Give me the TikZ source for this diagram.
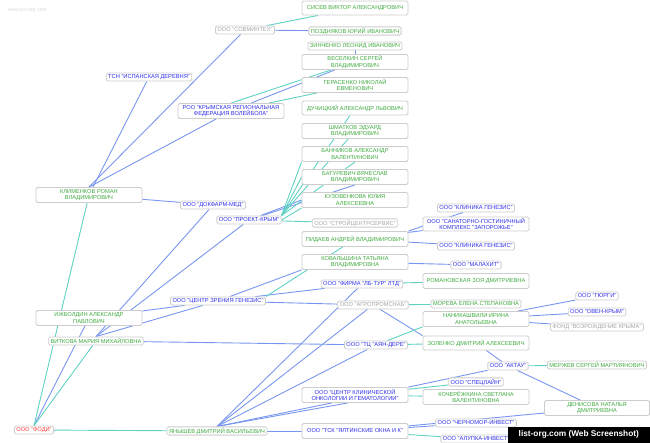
\documentclass[tikz,border=0pt]{standalone}
\usepackage{fontspec}
\setmainfont{Liberation Sans}
\usetikzlibrary{backgrounds}

\definecolor{pergreen}{RGB}{64,170,64}
\definecolor{orgblue}{RGB}{45,45,235}
\definecolor{offgray}{RGB}{165,165,165}
\definecolor{rootred}{RGB}{255,60,60}
\definecolor{linkblue}{RGB}{120,150,240}
\definecolor{linkteal}{RGB}{95,210,195}
\definecolor{boxgray}{RGB}{205,205,205}
\newcommand\nodefont{\fontsize{5.7}{6.6}\selectfont}

\begin{document}
\begin{tikzpicture}[x=1pt, y=-1pt,
				base/.style={draw=boxgray, line width=0.8pt, fill=white, rounded corners=1.5pt, font=\nodefont, align=center, inner xsep=2pt, inner ysep=1pt},
				wide/.style={base, minimum width=106pt, minimum height=15pt},
				tag/.style={base, minimum height=8pt},
				per/.style={text=pergreen},
				org/.style={text=orgblue},
				off/.style={text=offgray},
				root/.style={text=rootred},
				bl/.style={draw=linkblue, line width=0.9pt},
				tl/.style={draw=linkteal, line width=0.9pt}
			]
			\useasboundingbox (0,0) rectangle (650,443);
			\node[anchor=west, text=black!15, font=\fontsize{5.2}{6}\selectfont] (wm) at (4,10) {www.list-org.com};
			% middle column
			\node[wide, per, minimum height=14pt] (sisev) at (355,8) {СИСЕВ ВИКТОР АЛЕКСАНДРОВИЧ};
			\node[tag, off] (sovmin) at (245,30) {ООО "СОВМИНТЕХ"};
			\node[tag, per] (pozdn) at (355,31) {ПОЗДНЯКОВ ЮРИЙ ИВАНОВИЧ};
			\node[tag, per] (zinch) at (355,46) {ЗИНЧЕНКО ЛЕОНИД ИВАНОВИЧ};
			\node[wide, per] (veselk) at (355,62) {ВЕСЕЛКИН СЕРГЕЙ\\ВЛАДИМИРОВИЧ};
			\node[wide, per] (gerasen) at (355,85) {ГЕРАСЕНКО НИКОЛАЙ\\ЕВМЕНОВИЧ};
			\node[wide, per, minimum height=14pt] (duchic) at (355,108) {ДУЧИЦКИЙ АЛЕКСАНДР ЛЬВОВИЧ};
			\node[wide, per] (shmatk) at (355,131) {ШМАТКОВ ЭДУАРД\\ВЛАДИМИРОВИЧ};
			\node[wide, per] (bannik) at (355,154) {БАННИКОВ АЛЕКСАНДР\\ВАЛЕНТИНОВИЧ};
			\node[wide, per] (batur) at (355,177) {БАТУРЕВИЧ ВЯЧЕСЛАВ\\ВЛАДИМИРОВИЧ};
			\node[wide, per] (kuzov) at (355,200) {КУЗОВЕНКОВА ЮЛИЯ\\АЛЕКСЕЕВНА};
			\node[tag, off] (stroy) at (355,223) {ООО "СТРОЙЦЕНТРСЕРВИС"};
			\node[wide, per] (pidaev) at (355,239) {ПИДАЕВ АНДРЕЙ ВЛАДИМИРОВИЧ};
			\node[wide, per] (koval) at (355,262) {КОВАЛЬШИНА ТАТЬЯНА\\ВЛАДИМИРОВНА};
			\node[tag, org] (lbtur) at (362,284) {ООО "ФИРМА "ЛБ-ТУР" ЛТД"};
			\node[tag, off] (agro) at (373,305) {ООО "АГРОПРОМСНАБ"};
			\node[tag, org] (ayan) at (376,345) {ООО "ТЦ "АЯН-ДЕРЕ"};
			\node[wide, org] (onko) at (355,395) {ООО "ЦЕНТР КЛИНИЧЕСКОЙ\\ОНКОЛОГИИ И ГЕМАТОЛОГИИ"};
			\node[wide, org] (yalta) at (355,431) {ООО "ТСК "ЯЛТИНСКИЕ ОКНА И К"};
			% right columns
			\node[tag, org] (genez1) at (476,208) {ООО "КЛИНИКА ГЕНЕЗИС"};
			\node[wide, org, minimum height=14pt] (sanat) at (476,224) {ООО "САНАТОРНО-ГОСТИНИЧНЫЙ\\КОМПЛЕКС "ЗАПОРОЖЬЕ"};
			\node[tag, org] (genez2) at (476,246) {ООО "КЛИНИКА ГЕНЕЗИС"};
			\node[tag, org] (malah) at (476,265) {ООО "МАЛАХИТ"};
			\node[wide, per] (roman) at (476,281) {РОМАНОВСКАЯ ЗОЯ ДМИТРИЕВНА};
			\node[tag, per] (moreva) at (476,304) {МОРЕВА ЕЛЕНА СТЕПАНОВНА};
			\node[wide, per] (nanik) at (476,319) {НАНИКАШВИЛИ ИРИНА\\АНАТОЛЬЕВНА};
			\node[wide, per, minimum height=14pt] (zolenk) at (476,343) {ЗОЛЕНКО ДМИТРИЙ АЛЕКСЕЕВИЧ};
			\node[tag, org] (aktau) at (508,366) {ООО "АКТАУ"};
			\node[tag, org] (speclain) at (476,382) {ООО "СПЕЦЛАЙН"};
			\node[wide, per] (kocher) at (476,397) {КОЧЕРЁЖКИНА СВЕТЛАНА\\ВАЛЕНТИНОВНА};
			\node[tag, org] (chernomor) at (476,423) {ООО "ЧЕРНОМОР-ИНВЕСТ"};
			\node[tag, org] (alupka) at (476,439) {ООО "АЛУПКА-ИНВЕСТ"};
			\node[tag, org] (gyurgi) at (597,296) {ООО "ГЮРГИ"};
			\node[tag, org] (oven) at (597,312) {ООО "ОВЕН-КРЫМ"};
			\node[tag, off] (fond) at (597,327) {ФОНД "ВОЗРОЖДЕНИЕ КРЫМА"};
			\node[tag, per] (merzh) at (597,365) {МЕРЖЕВ СЕРГЕЙ МАРТИЯНОВИЧ};
			\node[wide, per, minimum width=105pt] (denis) at (597,408) {ДЕНИСОВА НАТАЛЬЯ\\ДМИТРИЕВНА};
			% left side
			\node[tag, org] (ispan) at (149,77) {ТСН "ИСПАНСКАЯ ДЕРЕВНЯ"};
			\node[wide, org] (roo) at (231,111) {РОО "КРЫМСКАЯ РЕГИОНАЛЬНАЯ\\ФЕДЕРАЦИЯ ВОЛЕЙБОЛА"};
			\node[wide, per] (klimen) at (89,195) {КЛИМЕНКОВ РОМАН\\ВЛАДИМИРОВИЧ};
			\node[tag, org] (dokfarm) at (213,205) {ООО "ДОКФАРМ-МЕД"};
			\node[tag, org] (proekt) at (249,220) {ООО "ПРОЕКТ-КРЫМ"};
			\node[tag, org] (zrenie) at (218,301) {ООО "ЦЕНТР ЗРЕНИЯ ГЕНЕЗИС"};
			\node[wide, per] (izhbold) at (89,318) {ИЖБОЛДИН АЛЕКСАНДР\\ПАВЛОВИЧ};
			\node[tag, per] (vitkova) at (96,341) {ВИТКОВА МАРИЯ МИХАЙЛОВНА};
			\node[tag, root] (fodi) at (34,430) {ООО "ФОДИ"};
			\node[tag, per] (yanysh) at (217,431) {ЯНЫШЕВ ДМИТРИЙ ВАСИЛЬЕВИЧ};
			\begin{pgfonlayer}{background}
			% company links
			\begin{scope}[bl]
			\draw (klimen) -- (ispan);
			\draw (klimen.north) -- (sovmin);
			\draw (klimen.north) -- (roo);
			\draw (klimen) -- (dokfarm);
			\draw (sovmin) -- (pozdn);
			\draw (roo) -- (veselk);
			\draw (zinch) -- (veselk);
			\draw (fodi.north) -- (izhbold);
			\draw (dokfarm) -- (vitkova.north);
			\draw (proekt) -- (vitkova.north);
			\draw (vitkova.north) -- (zrenie);
			\draw (vitkova) -- (ayan);
			\draw (izhbold) -- (zrenie);
			\draw (zrenie) -- (koval.south west);
			\draw (zrenie) -- (lbtur);
			\draw (zrenie) -- (agro);
			\draw (proekt) -- (batur.south);
			\draw (proekt) -- (kuzov.west);
			\draw (pidaev.north east) -- (genez1);
			\draw (pidaev) -- (sanat);
			\draw (pidaev) -- (genez2);
			\draw (koval) -- (malah);
			\draw (yanysh.north) -- (lbtur);
			\draw (yanysh.north) -- (agro);
			\draw (yanysh.north) -- (ayan);
			\draw (yanysh.north) -- ([xshift=-23pt]onko.south);
			\draw (yanysh.north) -- ([xshift=-7pt]onko.south);
			\draw (yanysh) -- (yalta);
			\draw (agro) -- (zolenk.north west);
			\draw (nanik) -- (gyurgi);
			\draw (nanik) -- (oven);
			\draw (nanik) -- (fond);
			\draw (zolenk) -- (aktau);
			\draw (aktau) -- (denis);
			\draw (aktau) -- (onko.north east);
			\draw (yalta) -- (denis);
			\draw (yalta) -- (chernomor);
			\end{scope}
			% person links
			\begin{scope}[tl]
			\draw (sovmin) -- (sisev);
			\draw (roo.north) -- (veselk);
			\draw (roo) -- (gerasen);
			\draw (fodi.north) -- (klimen);
			\draw (fodi.north) -- (vitkova);
			\draw (fodi) -- (yanysh);
			\draw (proekt.north east) -- (duchic);
			\draw (proekt.north east) -- (shmatk);
			\draw (proekt.north east) -- (bannik.south west);
			\draw (proekt.north east) -- (bannik.south);
			\draw (proekt.north east) -- (batur.west);
			\draw (proekt.east) -- (kuzov.south west);
			\draw (proekt) -- (stroy);
			\draw (zrenie.north east) -- (pidaev);
			\draw (lbtur) -- (roman);
			\draw (agro) -- (moreva);
			\draw (ayan) -- (zolenk);
			\draw (ayan) -- (nanik.south west);
			\draw (aktau) -- (merzh);
			\draw (onko) -- (speclain);
			\draw (onko) -- (kocher);
			\draw (yalta) -- (alupka);
			\end{scope}
			\end{pgfonlayer}
			\node[fill=black, text=white, font=\bfseries\fontsize{8.3}{9}\selectfont, anchor=south east, inner sep=1pt, minimum width=142pt, minimum height=16pt] (badge) at (650,443) {list-org.com (Web Screenshot)};
\end{tikzpicture}
\end{document}
